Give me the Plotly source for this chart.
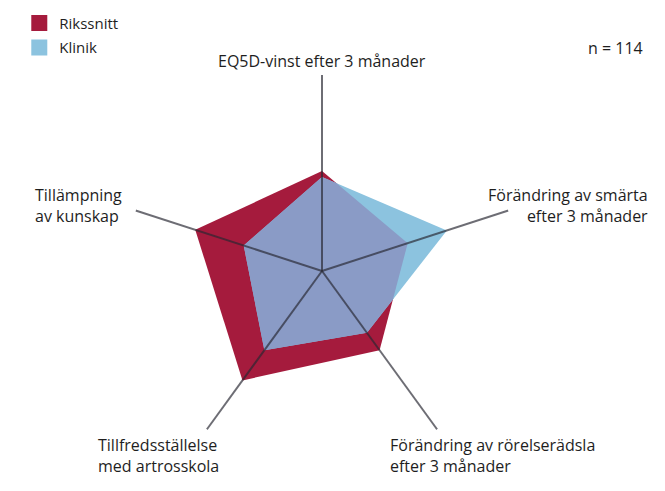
import math
import plotly.graph_objects as go

categories = [
    "EQ5D-vinst efter 3 månader",
    "Förändring av smärta efter 3 månader",
    "Förändring av rörelserädsla efter 3 månader",
    "Tillfredsställelse med artrosskola",
    "Tillämpning av kunskap",
]
rikssnitt = [0.51, 0.46, 0.50, 0.69, 0.68]
klinik = [0.48, 0.67, 0.39, 0.50, 0.42]
n_text = "n = 114"

RED = "#a51b3d"
BLUE = "#8cc3df"
OVERLAP = "#8a9bc6"
FONT = "Open Sans"
FS = 16

angles = [i * 360 / len(categories) for i in range(len(categories))]


def closed(vals):
    return list(vals) + [vals[0]]


def to_xy(rs):
    return [(r * math.cos(math.radians(a)), r * math.sin(math.radians(a))) for r, a in zip(rs, angles)]


def clip(subject, clipper):
    # Sutherland-Hodgman, clipper is convex
    area = sum(clipper[i - 1][0] * clipper[i][1] - clipper[i][0] * clipper[i - 1][1]
               for i in range(len(clipper)))

    def inside(p, a, b):
        c = (b[0] - a[0]) * (p[1] - a[1]) - (b[1] - a[1]) * (p[0] - a[0])
        return c * area >= 0

    def cross_pt(p, q, a, b):
        x1, y1, x2, y2 = p[0], p[1], q[0], q[1]
        x3, y3, x4, y4 = a[0], a[1], b[0], b[1]
        d = (x1 - x2) * (y3 - y4) - (y1 - y2) * (x3 - x4)
        t = ((x1 - x3) * (y3 - y4) - (y1 - y3) * (x3 - x4)) / d
        return (x1 + t * (x2 - x1), y1 + t * (y2 - y1))

    out = subject
    for i in range(len(clipper)):
        a, b = clipper[i - 1], clipper[i]
        inp, out = out, []
        for j in range(len(inp)):
            p, q = inp[j - 1], inp[j]
            if inside(q, a, b):
                if not inside(p, a, b):
                    out.append(cross_pt(p, q, a, b))
                out.append(q)
            elif inside(p, a, b):
                out.append(cross_pt(p, q, a, b))
    return out


ov = clip(to_xy(klinik), to_xy(rikssnitt))
ov_r = [math.hypot(x, y) for x, y in ov]
ov_t = [math.degrees(math.atan2(y, x)) for x, y in ov]

fig = go.Figure()
fig.add_trace(go.Scatterpolar(r=closed(rikssnitt), theta=closed(angles), fill="toself",
                              fillcolor=RED, line=dict(width=0), mode="lines",
                              showlegend=False, hoverinfo="skip"))
fig.add_trace(go.Scatterpolar(r=closed(klinik), theta=closed(angles), fill="toself",
                              fillcolor=BLUE, line=dict(width=0), mode="lines",
                              showlegend=False, hoverinfo="skip"))
fig.add_trace(go.Scatterpolar(r=closed(ov_r), theta=closed(ov_t), fill="toself",
                              fillcolor=OVERLAP, line=dict(width=0), mode="lines",
                              showlegend=False, hoverinfo="skip"))

# spokes on top of the fills
for a in angles:
    fig.add_trace(go.Scatterpolar(r=[0, 1], theta=[a, a], mode="lines",
                                  line=dict(color="rgba(40,40,50,0.68)", width=2),
                                  showlegend=False, hoverinfo="skip"))

# legend entries
for name, col in [("Rikssnitt", RED), ("Klinik", BLUE)]:
    fig.add_trace(go.Scatterpolar(r=[None], theta=[0], mode="markers", name=name,
                                  legendgroup=name,
                                  marker=dict(symbol="square", size=17, color=col)))

fig.update_layout(
    width=665, height=491,
    margin=dict(l=0, r=0, t=0, b=0),
    paper_bgcolor="white",
    font=dict(family=FONT, size=FS, color="#1e1e1e"),
    polar=dict(
        domain=dict(x=[0.1895, 0.7789], y=[0.0489, 0.8473]),
        bgcolor="rgba(0,0,0,0)",
        radialaxis=dict(range=[0, 1], visible=False),
        angularaxis=dict(rotation=90, direction="clockwise", showgrid=False,
                         showline=False, showticklabels=False, ticks=""),
    ),
    legend=dict(x=0.029, y=0.986, xanchor="left", yanchor="top", tracegroupgap=2,
                font=dict(size=FS - 1), bgcolor="rgba(0,0,0,0)"),
    showlegend=True,
)

labels = [
    ("EQ5D-vinst efter 3 månader", 322, 61, "center"),
    ("Förändring av smärta<br>efter 3 månader", 650, 205, "right"),
    ("Tillämpning<br>av kunskap", 33, 205, "left"),
    ("Tillfredsställelse<br>med artrosskola", 96, 455, "left"),
    ("Förändring av rörelserädsla<br>efter 3 månader", 388, 455, "left"),
    (n_text, 645, 48, "right"),
]
for text, px, py, al in labels:
    fig.add_annotation(x=px / 665, y=1 - py / 491, xref="paper", yref="paper", text=text,
                       showarrow=False, xanchor=al, yanchor="middle", align=al,
                       font=dict(family=FONT, size=FS, color="#1e1e1e"))

fig.write_html("out.html", config={"displayModeBar": False},
               post_script="document.body.style.margin='0';")
